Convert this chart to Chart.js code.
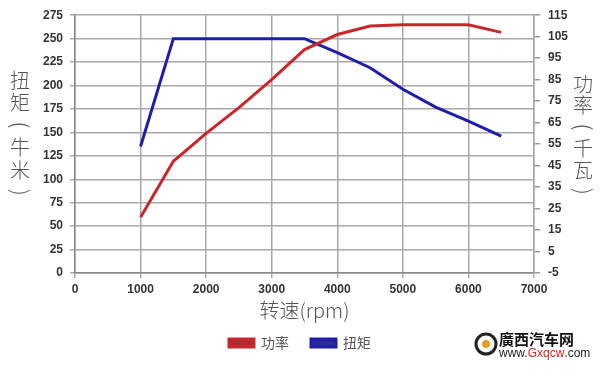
<!DOCTYPE html>
<html>
<head>
<meta charset="utf-8">
<script src="https://cdn.jsdelivr.net/npm/chart.js@4/dist/chart.umd.min.js"></script>
<style>
  html, body { margin: 0; padding: 0; background: #fff; }
  #chart { display: block; }
</style>
</head>
<body>
<canvas id="chart" width="600" height="369"></canvas>
<script>
const rpm = [1000, 1500, 2000, 2500, 3000, 3500, 4000, 4500, 5000, 5500, 6000, 6500];
const power = [21, 47, 60, 72, 85, 99, 106, 110, 110.5, 110.5, 110.5, 107];
const torque = [135, 250, 250, 250, 250, 250, 235, 219, 196, 177, 162, 146];

const seriesNames = ['功率', '扭矩'];
const leftTitle = ['扭', '矩', '(', '牛', '米', ')'];
const rightTitle = ['功', '率', '(', '千', '瓦', ')'];
const xTitle = '转速(rpm)';

const RED = '#c8282c';
const BLUE = '#1e1ea8';
const GRID = '#a8a8a8';
const TICK_FONT = { family: 'Arial, "Liberation Sans"', size: 12, weight: 'bold' };
const CJK = '"Noto Sans CJK SC", "Noto Sans", sans-serif';

const toPoints = (xs, ys) => xs.map((x, i) => ({ x, y: ys[i] }));

// stacked vertical text, brackets turned to lie flat
function drawVertical(c, chars, x, y0, step) {
    chars.forEach((ch, i) => {
        const y = y0 + i * step;
        if (ch === '(' || ch === ')') {
            c.save();
            c.translate(x, y);
            c.rotate(Math.PI / 2);
            c.font = '300 22px ' + CJK;
            c.fillText(ch, 0, 0);
            c.restore();
        } else {
            c.fillText(ch, x, y);
        }
    });
}

const extras = {
    id: 'extras',
    afterDraw(chart) {
        const c = chart.ctx;
        c.save();
        c.fillStyle = '#555';
        c.font = '300 20px ' + CJK;
        c.textAlign = 'center';
        c.textBaseline = 'middle';
        drawVertical(c, leftTitle, 20, 80, 22.5);
        drawVertical(c, rightTitle, 583, 84, 21.5);

        // watermark
        c.beginPath();
        c.arc(486, 344, 10, 0, Math.PI * 2);
        c.lineWidth = 3;
        c.strokeStyle = '#222';
        c.stroke();
        c.beginPath();
        c.arc(486, 344, 4, 0, Math.PI * 2);
        c.fillStyle = '#e0a020';
        c.fill();
        c.fillStyle = '#111';
        c.textAlign = 'left';
        c.font = 'bold 15px "Noto Sans CJK TC", serif';
        c.fillText('廣西汽车网', 499, 339);
        c.font = '12px Arial, "Liberation Sans"';
        c.fillStyle = '#222';
        c.fillText('www.', 499, 354);
        let w = c.measureText('www.').width;
        c.fillStyle = '#e02020';
        c.fillText('Gxqcw', 499 + w, 354);
        w += c.measureText('Gxqcw').width;
        c.fillStyle = '#222';
        c.fillText('.com', 499 + w, 354);
        c.restore();
    }
};

new Chart(document.getElementById('chart'), {
    type: 'line',
    data: {
        datasets: [{
            label: seriesNames[0],
            data: toPoints(rpm, power),
            yAxisID: 'yPower',
            borderColor: RED,
            backgroundColor: '#b3282f',
            borderWidth: 3,
            pointRadius: 0,
            tension: 0
        }, {
            label: seriesNames[1],
            data: toPoints(rpm, torque),
            yAxisID: 'yTorque',
            borderColor: BLUE,
            backgroundColor: '#2a2a9c',
            borderWidth: 3,
            pointRadius: 0,
            tension: 0
        }]
    },
    options: {
        responsive: false,
        animation: false,
        layout: { padding: { top: 14, left: 0, right: 0, bottom: 9 } },
        plugins: {
            tooltip: { enabled: false },
            legend: {
                position: 'bottom',
                labels: {
                    boxWidth: 25,
                    boxHeight: 8,
                    padding: 22,
                    color: '#555',
                    font: { family: CJK, size: 14 }
                }
            }
        },
        scales: {
            x: {
                type: 'linear',
                min: 0,
                max: 7000,
                ticks: {
                    stepSize: 1000,
                    color: '#333',
                    font: TICK_FONT,
                    padding: 4,
                    maxRotation: 0,
                    callback: v => String(v)
                },
                grid: { color: GRID, lineWidth: 1.5, tickLength: 5 },
                border: { color: '#888', width: 1.5 },
                title: {
                    display: true,
                    text: xTitle,
                    color: '#555',
                    font: { family: CJK, size: 20, weight: '300', lineHeight: 1 },
                    padding: { top: 0, bottom: -6 }
                },
                afterFit(s) { s.height = 41; }
            },
            yTorque: {
                position: 'left',
                min: 0,
                max: 275,
                ticks: {
                    stepSize: 25,
                    color: '#333',
                    font: TICK_FONT,
                    padding: 7
                },
                grid: { color: GRID, lineWidth: 1.5, tickLength: 5 },
                border: { color: '#888', width: 1.5 },
                afterFit(s) { s.width = 75; }
            },
            yPower: {
                position: 'right',
                min: -5,
                max: 115,
                ticks: {
                    stepSize: 10,
                    color: '#333',
                    font: TICK_FONT,
                    padding: 8
                },
                grid: { drawOnChartArea: false, color: '#999', lineWidth: 1.5, tickLength: 6 },
                border: { color: GRID, width: 1.5 },
                afterFit(s) { s.width = 66; }
            }
        }
    },
    plugins: [extras]
});
</script>
</body>
</html>
